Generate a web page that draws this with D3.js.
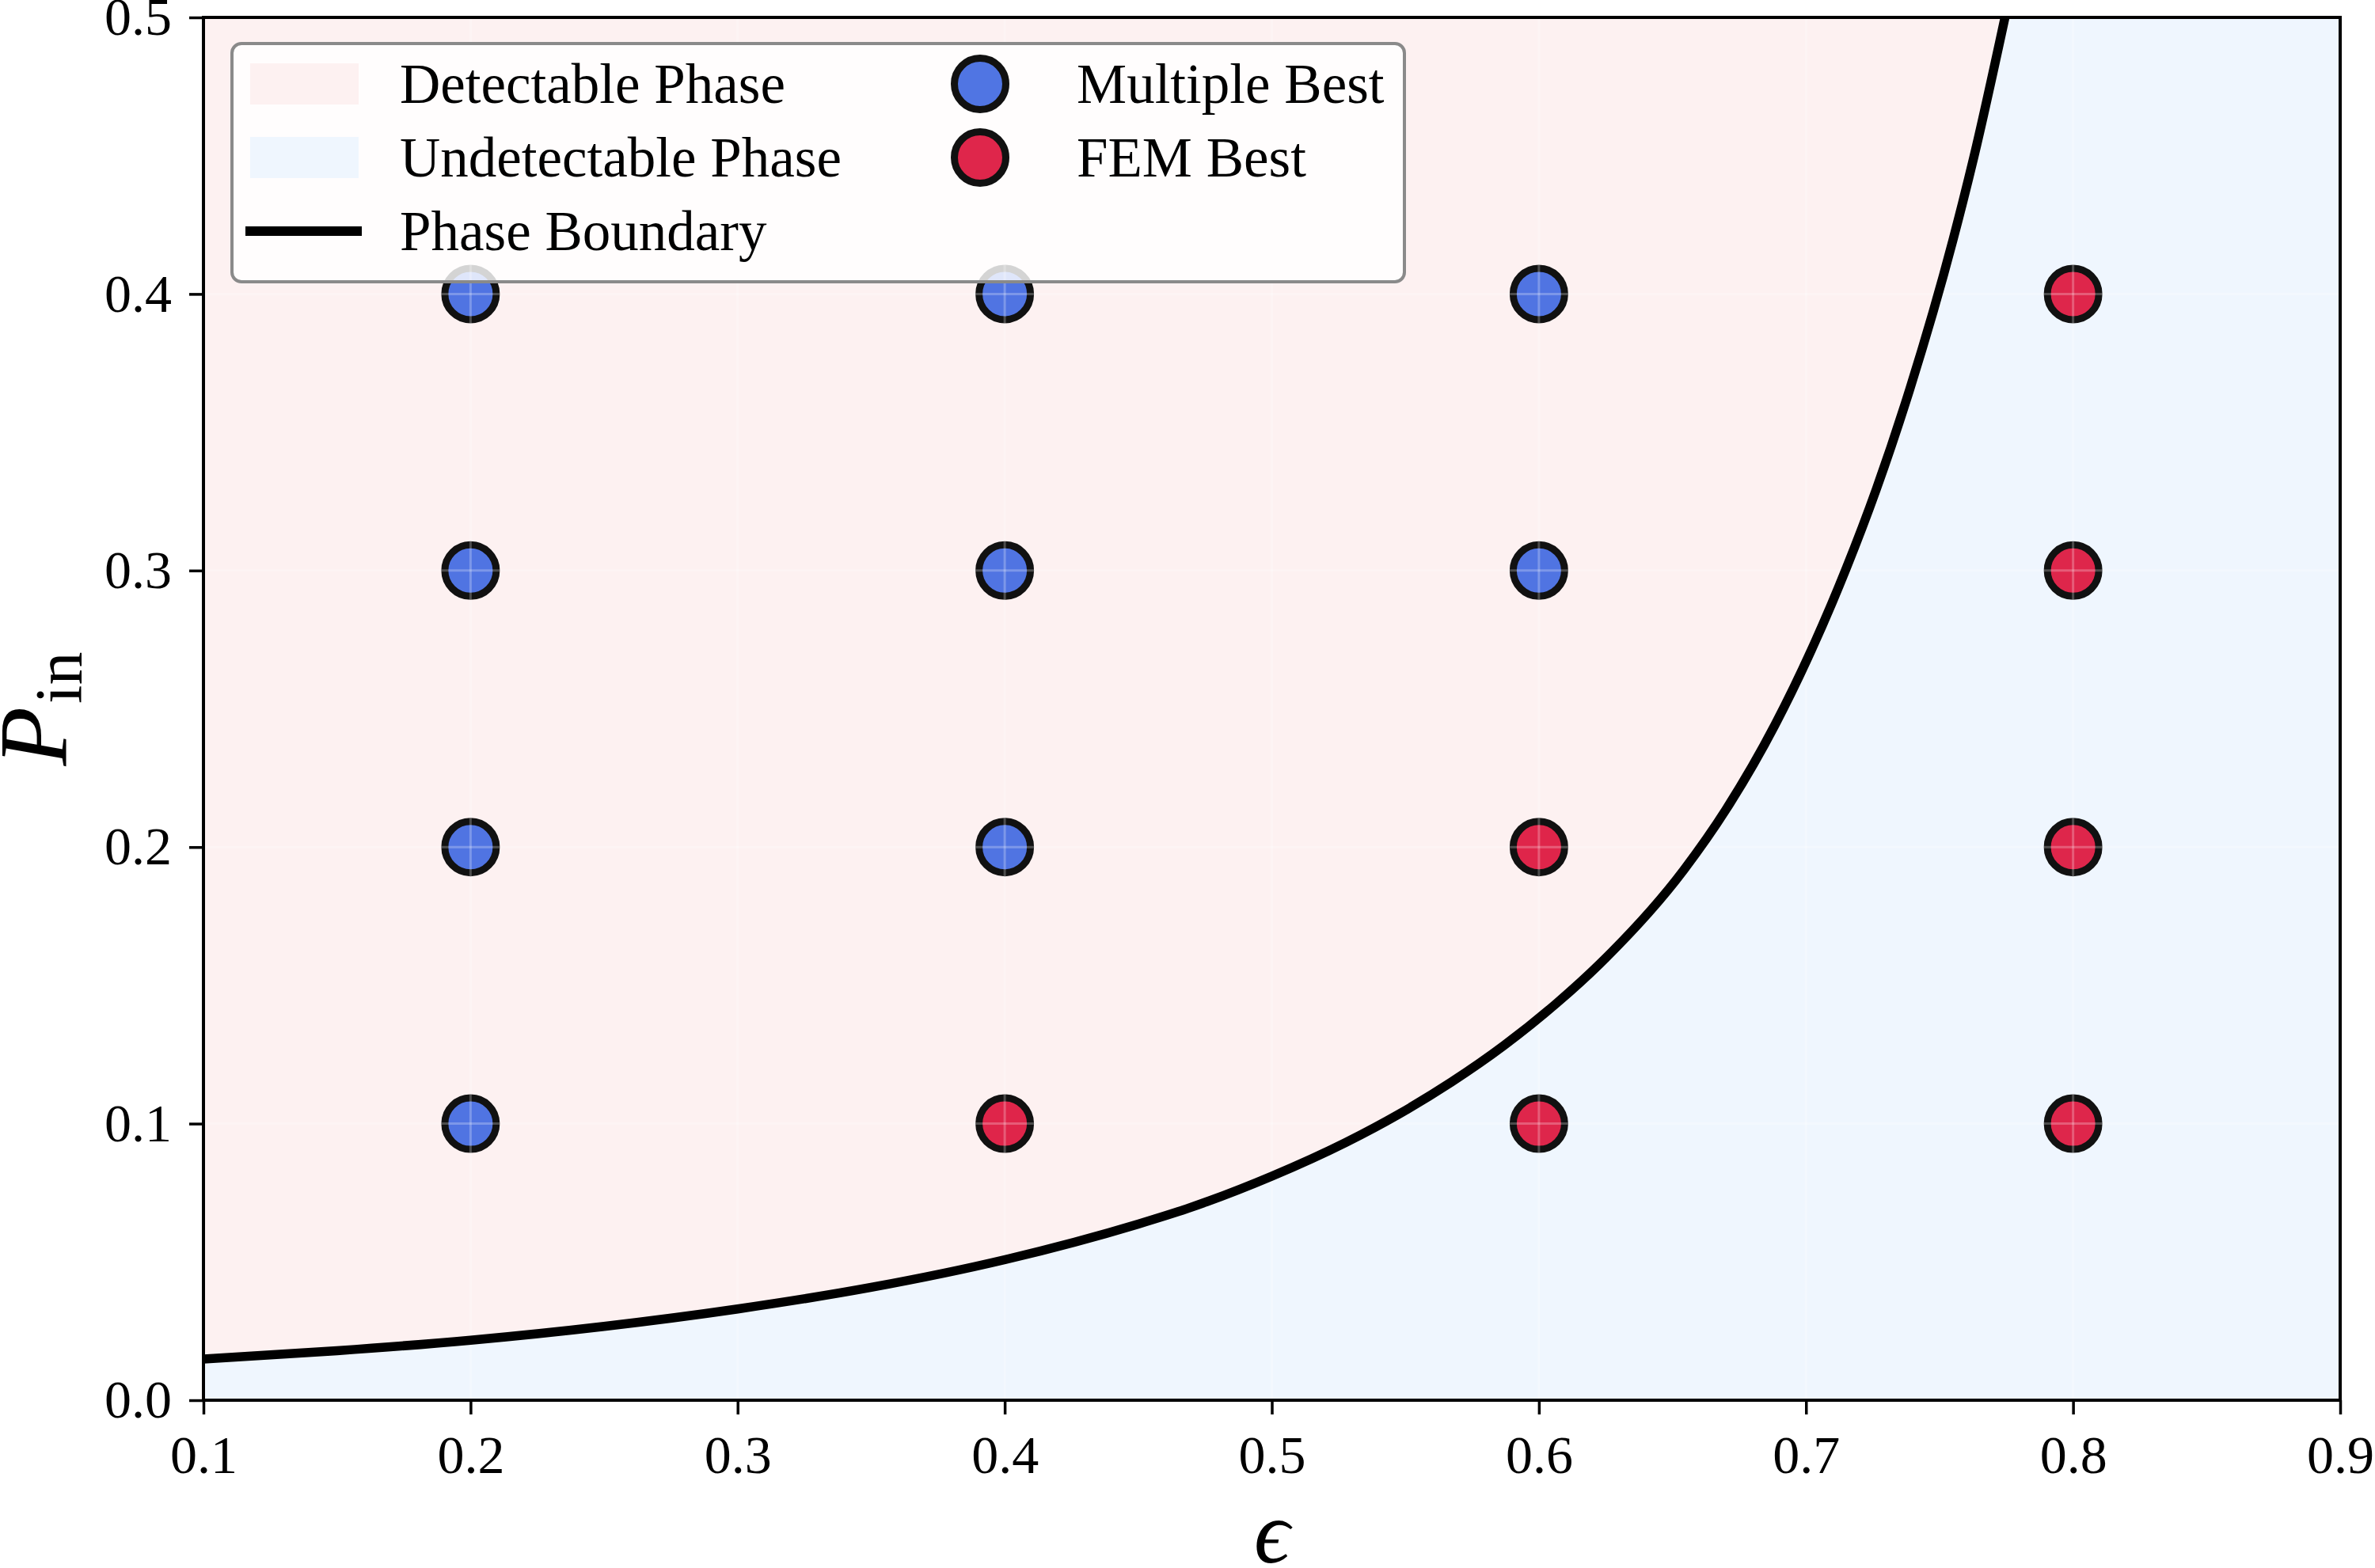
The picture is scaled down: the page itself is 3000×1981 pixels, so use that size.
<!DOCTYPE html>
<html>
<head>
<meta charset="utf-8">
<script src="https://cdn.jsdelivr.net/npm/d3@7"></script>
<style>
  body { margin: 0; background: #fff; }
  text { font-family: "Liberation Serif", "DejaVu Serif", serif; fill: #000; }
</style>
</head>
<body>
<div id="chart"></div>
<script>
// tick values
var xTicks = [0.1, 0.2, 0.3, 0.4, 0.5, 0.6, 0.7, 0.8, 0.9];
var yTicks = [0.0, 0.1, 0.2, 0.3, 0.4, 0.5];

// phase boundary
var boundaryEps = [0.10, 0.15, 0.20, 0.25, 0.30, 0.35, 0.40, 0.45, 0.4684, 0.50, 0.5277, 0.5475,
                   0.5672, 0.587, 0.6067, 0.6226, 0.6543, 0.670, 0.6884, 0.702, 0.715, 0.7263,
                   0.739, 0.755, 0.7628, 0.7745];
var boundaryP   = [0.0149, 0.0179, 0.0217, 0.0267, 0.0330, 0.0408, 0.0508, 0.0637, 0.0693, 0.0810, 0.0932, 0.1034,
                   0.1150, 0.1283, 0.1436, 0.1576, 0.1918, 0.2135, 0.2442, 0.2712, 0.3006, 0.3293,
                   0.3660, 0.4194, 0.4493, 0.5000];

// which method was best at each grid point
var multipleEps = [0.2, 0.2, 0.2, 0.2, 0.4, 0.4, 0.4, 0.6, 0.6];
var multipleP   = [0.1, 0.2, 0.3, 0.4, 0.2, 0.3, 0.4, 0.3, 0.4];
var femEps = [0.4, 0.6, 0.6, 0.8, 0.8, 0.8, 0.8];
var femP   = [0.1, 0.1, 0.2, 0.1, 0.2, 0.3, 0.4];

var pink = "#fdf1f1", blue = "#eff6fe";
var royal = "#4169e1", crimson = "#dc143c";

var margin = {top: 22, right: 44, bottom: 212, left: 257},
  W = 3000, H = 1981,
  width = W - margin.left - margin.right,
  height = H - margin.top - margin.bottom;

var svg = d3.select("#chart")
  .append("svg")
    .attr("width", W)
    .attr("height", H);

var g = svg.append("g")
    .attr("transform", "translate(" + margin.left + "," + margin.top + ")");

var x = d3.scaleLinear().domain([0.1, 0.9]).range([0, width]);
var y = d3.scaleLinear().domain([0, 0.5]).range([height, 0]);

g.append("clipPath").attr("id", "plotclip")
  .append("rect").attr("width", width).attr("height", height);

// undetectable background, detectable region above the boundary
g.append("rect")
    .attr("width", width).attr("height", height)
    .attr("fill", blue);

var boundary = boundaryEps.map(function(e, i) { return {e: e, p: boundaryP[i]}; });

var area = d3.area()
    .x(function(d) { return x(d.e); })
    .y0(function(d) { return y(d.p); })
    .y1(y(0.5))
    .curve(d3.curveMonotoneX);

g.append("path")
    .datum(boundary)
    .attr("d", area)
    .attr("fill", pink)
    .attr("clip-path", "url(#plotclip)");

// points
function dots(es, ps, color) {
  g.append("g")
    .selectAll("circle")
    .data(es.map(function(e, i) { return {e: e, p: ps[i]}; }))
    .enter()
    .append("circle")
      .attr("cx", function(d) { return x(d.e); })
      .attr("cy", function(d) { return y(d.p); })
      .attr("r", 32.5)
      .attr("fill", color)
      .attr("fill-opacity", 0.92)
      .attr("stroke", "#111")
      .attr("stroke-width", 9);
}
dots(multipleEps, multipleP, royal);
dots(femEps, femP, crimson);

// faint grid
var grid = g.append("g").attr("stroke", "#fff").attr("stroke-opacity", 0.25).attr("stroke-width", 3);
grid.selectAll("line.vx").data(xTicks).enter().append("line")
    .attr("x1", function(d) { return x(d); }).attr("x2", function(d) { return x(d); })
    .attr("y1", 0).attr("y2", height);
grid.selectAll("line.hy").data(yTicks).enter().append("line")
    .attr("y1", function(d) { return y(d); }).attr("y2", function(d) { return y(d); })
    .attr("x1", 0).attr("x2", width);

// phase boundary line
var line = d3.line()
    .x(function(d) { return x(d.e); })
    .y(function(d) { return y(d.p); })
    .curve(d3.curveMonotoneX);

g.append("path")
    .datum(boundary)
    .attr("d", line)
    .attr("fill", "none")
    .attr("stroke", "#000")
    .attr("stroke-width", 11.5)
    .attr("clip-path", "url(#plotclip)");

// axes
var xAxis = g.append("g")
    .attr("transform", "translate(0," + height + ")")
    .call(d3.axisBottom(x).tickValues(xTicks).tickFormat(d3.format(".1f")).tickSize(18).tickPadding(26));
var yAxis = g.append("g")
    .call(d3.axisLeft(y).tickValues(yTicks).tickFormat(d3.format(".1f")).tickSize(18).tickPadding(22));

[xAxis, yAxis].forEach(function(a) {
  a.select(".domain").remove();
  a.selectAll("line").attr("stroke", "#000").attr("stroke-width", 3.5);
  a.selectAll("text").attr("font-size", 68).attr("font-family", "Liberation Serif, DejaVu Serif, serif").attr("fill", "#000");
});

// frame
g.append("rect")
    .attr("width", width).attr("height", height)
    .attr("fill", "none").attr("stroke", "#000").attr("stroke-width", 4);

// axis labels
svg.append("text")
    .attr("x", margin.left + width / 2)
    .attr("y", 1974)
    .attr("text-anchor", "middle")
    .attr("font-style", "italic")
    .attr("font-size", 112)
    .text("ϵ");

var ylab = svg.append("text")
    .attr("transform", "translate(84," + (margin.top + height / 2) + ") rotate(-90)")
    .attr("text-anchor", "middle");
ylab.append("tspan").attr("font-style", "italic").attr("font-size", 122).text("P");
ylab.append("tspan").attr("font-size", 84).attr("dy", 19).attr("dx", 4).text("in");

// legend
var leg = svg.append("g");
leg.append("rect")
    .attr("x", 293).attr("y", 55)
    .attr("width", 1481).attr("height", 301)
    .attr("rx", 12)
    .attr("fill", "#fff").attr("fill-opacity", 0.82)
    .attr("stroke", "#8a8a8a").attr("stroke-width", 4);

var legendLeft = ["Detectable Phase", "Undetectable Phase", "Phase Boundary"];
var legendRight = ["Multiple Best", "FEM Best"];
var rowY = [106, 199, 292];

leg.append("rect").attr("x", 316).attr("y", 80).attr("width", 137).attr("height", 52).attr("fill", pink);
leg.append("rect").attr("x", 316).attr("y", 173).attr("width", 137).attr("height", 52).attr("fill", blue);
leg.append("line").attr("x1", 310).attr("x2", 457).attr("y1", rowY[2]).attr("y2", rowY[2])
    .attr("stroke", "#000").attr("stroke-width", 12);

leg.selectAll("text.l").data(legendLeft).enter().append("text")
    .attr("x", 505)
    .attr("y", function(d, i) { return rowY[i] + 24; })
    .attr("font-size", 71)
    .text(function(d) { return d; });

[royal, crimson].forEach(function(c, i) {
  leg.append("circle")
      .attr("cx", 1238).attr("cy", rowY[i]).attr("r", 32.5)
      .attr("fill", c).attr("fill-opacity", 0.92)
      .attr("stroke", "#111").attr("stroke-width", 9);
});
leg.selectAll("text.r").data(legendRight).enter().append("text")
    .attr("x", 1360)
    .attr("y", function(d, i) { return rowY[i] + 24; })
    .attr("font-size", 71)
    .text(function(d) { return d; });
</script>
</body>
</html>
